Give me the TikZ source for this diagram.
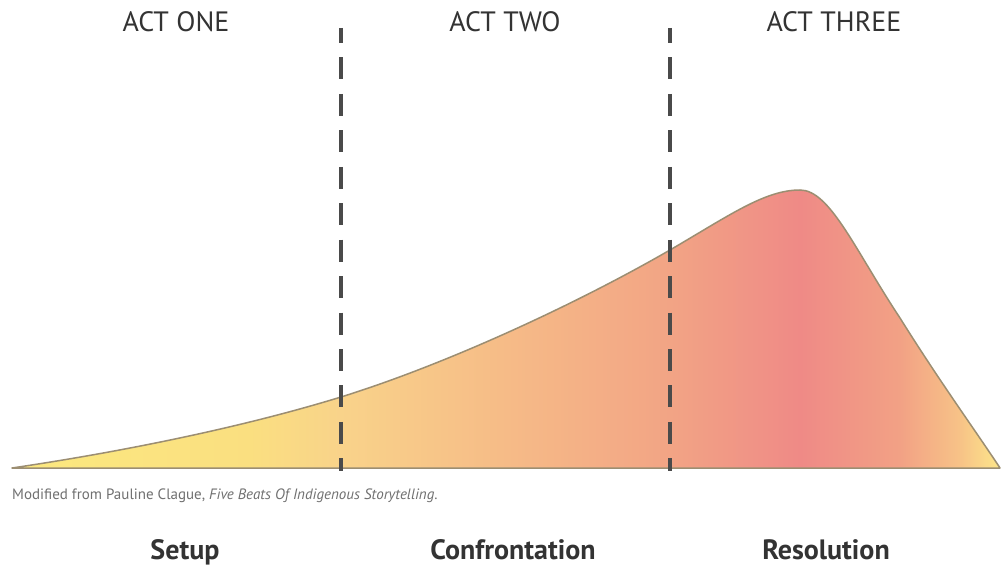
\documentclass[tikz,border=0pt]{standalone}
\usepackage{fontspec}
\setmainfont{PT Sans}
\usetikzlibrary{positioning}

\definecolor{edgegray}{HTML}{9C8E72}
\definecolor{dashgray}{HTML}{4A4A4A}
\definecolor{textgray}{HTML}{333333}
\definecolor{notegray}{HTML}{707070}
\definecolor{shA}{HTML}{FCE97F}
\definecolor{shB}{HTML}{FADF80}
\definecolor{shC}{HTML}{F9D38A}
\definecolor{shD}{HTML}{F6BC87}
\definecolor{shE}{HTML}{F2A485}
\definecolor{shF}{HTML}{EF8A86}
\definecolor{shG}{HTML}{F2A185}
\definecolor{shH}{HTML}{F7C387}
\definecolor{shI}{HTML}{FDE68A}

\pgfdeclarehorizontalshading{actshade}{100bp}{
  color(0bp)=(shA); color(25bp)=(shA); color(37bp)=(shB); color(41.6bp)=(shC);
  color(49.7bp)=(shD); color(58.3bp)=(shE); color(64.9bp)=(shF);
  color(69.9bp)=(shG); color(73bp)=(shH); color(75bp)=(shI); color(100bp)=(shI)}

\tikzset{
  actlabel/.style={font=\fontsize{28}{28}\selectfont, text=textgray, anchor=base, inner sep=0pt},
  beatlabel/.style={font=\fontsize{28}{28}\selectfont\bfseries, text=textgray, anchor=base, inner sep=0pt},
  actdiv/.style={dashgray, line width=4pt, dash pattern=on 22pt off 14.45pt, dash phase=7pt}
}

\begin{document}
\begin{tikzpicture}[x=1pt,y=-1pt]
  \useasboundingbox[fill=white] (0,0) rectangle (1002,569);

  % the rising curve
  \coordinate (start) at (12,468);
  \coordinate (end) at (1000,468);
  \coordinate (c1) at (341,397);
  \coordinate (c2) at (670,250);
  \coordinate (peak) at (800,190);
  \coordinate (fall) at (900,318);
  \path[shading=actshade, draw=edgegray, line width=1.5pt, line join=round]
    (start) .. controls (120,452) and (240,428) .. (c1)
            .. controls (450,363) and (580,302) .. (c2)
            .. controls (730,215) and (765,190) .. (peak)
            .. controls (830,190) and (855,250) .. (fall)
            .. controls (940,382) and (975,430) .. (end) -- cycle;

  % act dividers
  \coordinate (d1top) at (341,28);
  \coordinate (d1bot) at (341,471);
  \coordinate (d2top) at (670,28);
  \coordinate (d2bot) at (670,471);
  \draw[actdiv] (d1top) -- (d1bot);
  \draw[actdiv] (d2top) -- (d2bot);

  \node[actlabel] (one) at (176,32) {ACT ONE};
  \node[actlabel] (two) at (505,32) {ACT TWO};
  \node[actlabel] (three) at (834,32) {ACT THREE};

  \node[anchor=base west, inner sep=0pt, text=notegray, font=\fontsize{15}{15}\selectfont] (src) at (12,499)
    {Modified from Pauline Clague, \textit{Five Beats Of Indigenous Storytelling}.};

  \node[beatlabel] (setup) at (185,559) {Setup};
  \node[beatlabel] (confront) at (513,559) {Confrontation};
  \node[beatlabel] (resolve) at (826,559) {Resolution};
\end{tikzpicture}
\end{document}
